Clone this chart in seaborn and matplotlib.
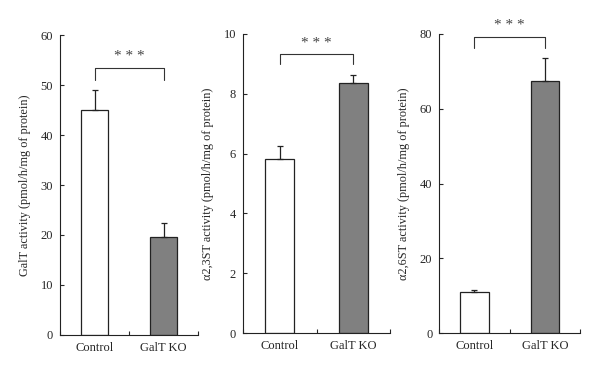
import numpy as np
import pandas as pd
import seaborn as sns
import matplotlib.pyplot as plt

# data
groups = ["Control", "GalT KO"]
galt_mean = [45.1, 19.5]
galt_err = [4.0, 2.8]
st3_mean = [5.83, 8.37]
st3_err = [0.44, 0.26]
st6_mean = [10.9, 67.4]
st6_err = [0.7, 6.3]

ylabels = ["GalT activity (pmol/h/mg of protein)",
           "α2,3ST activity (pmol/h/mg of protein)",
           "α2,6ST activity (pmol/h/mg of protein)"]
ymax = [60, 10, 80]
ystep = [10, 2, 20]
bracket_y = [53.5, 9.33, 79.3]
bracket_drop = [2.4, 0.33, 3.1]

sns.set_theme(style="ticks")
plt.rcParams['font.family'] = ['Liberation Serif', 'DejaVu Serif']

fig = plt.figure(figsize=(6, 3.73), dpi=100)
boxes = [[0.100, 0.102, 0.230, 0.804],
         [0.405, 0.107, 0.245, 0.802],
         [0.732, 0.107, 0.235, 0.802]]

panels = [(galt_mean, galt_err), (st3_mean, st3_err), (st6_mean, st6_err)]

for i, (means, errs) in enumerate(panels):
    ax = fig.add_axes(boxes[i])
    df = pd.DataFrame({"group": groups, "value": means})
    sns.barplot(data=df, x="group", y="value", hue="group",
                palette=["white", "#808080"], width=0.4, legend=False,
                edgecolor="#222222", linewidth=0.9, ax=ax)
    ax.errorbar([0, 1], means, yerr=[[0, 0], errs], fmt="none",
                ecolor="#222222", elinewidth=0.9, capsize=2.5, capthick=0.9)

    ax.set_xlim(-0.5, 1.5)
    ax.set_ylim(0, ymax[i])
    ax.set_yticks(np.arange(0, ymax[i] + 0.01, ystep[i]))
    ax.set_xticks([-0.5, 0.5, 1.5])
    ax.set_xticklabels([])
    ax.set_xticks([0, 1], minor=True)
    ax.set_xticklabels(groups, minor=True, fontsize=9)
    ax.tick_params(axis="x", which="minor", length=0, pad=5)
    ax.tick_params(axis="x", which="major", direction="in", length=3, width=0.8)
    ax.tick_params(axis="y", direction="in", length=3, width=0.8, labelsize=9, pad=5)
    ax.set_xlabel("")
    ax.set_ylabel(ylabels[i], fontsize=8.8, labelpad=7)
    sns.despine(ax=ax)
    for s in ["left", "bottom"]:
        ax.spines[s].set_linewidth(0.8)
        ax.spines[s].set_color("#222222")

    # significance bracket
    by = bracket_y[i]
    bd = bracket_drop[i]
    ax.plot([0, 0, 1, 1], [by - bd, by, by, by - bd], color="#333333",
            lw=0.8, clip_on=False)
    ax.text(0.5, by + bd * 0.4, "* * *", ha="center", va="bottom",
            fontsize=11, color="#444444", clip_on=False)

fig.savefig("out.png", dpi=100)
